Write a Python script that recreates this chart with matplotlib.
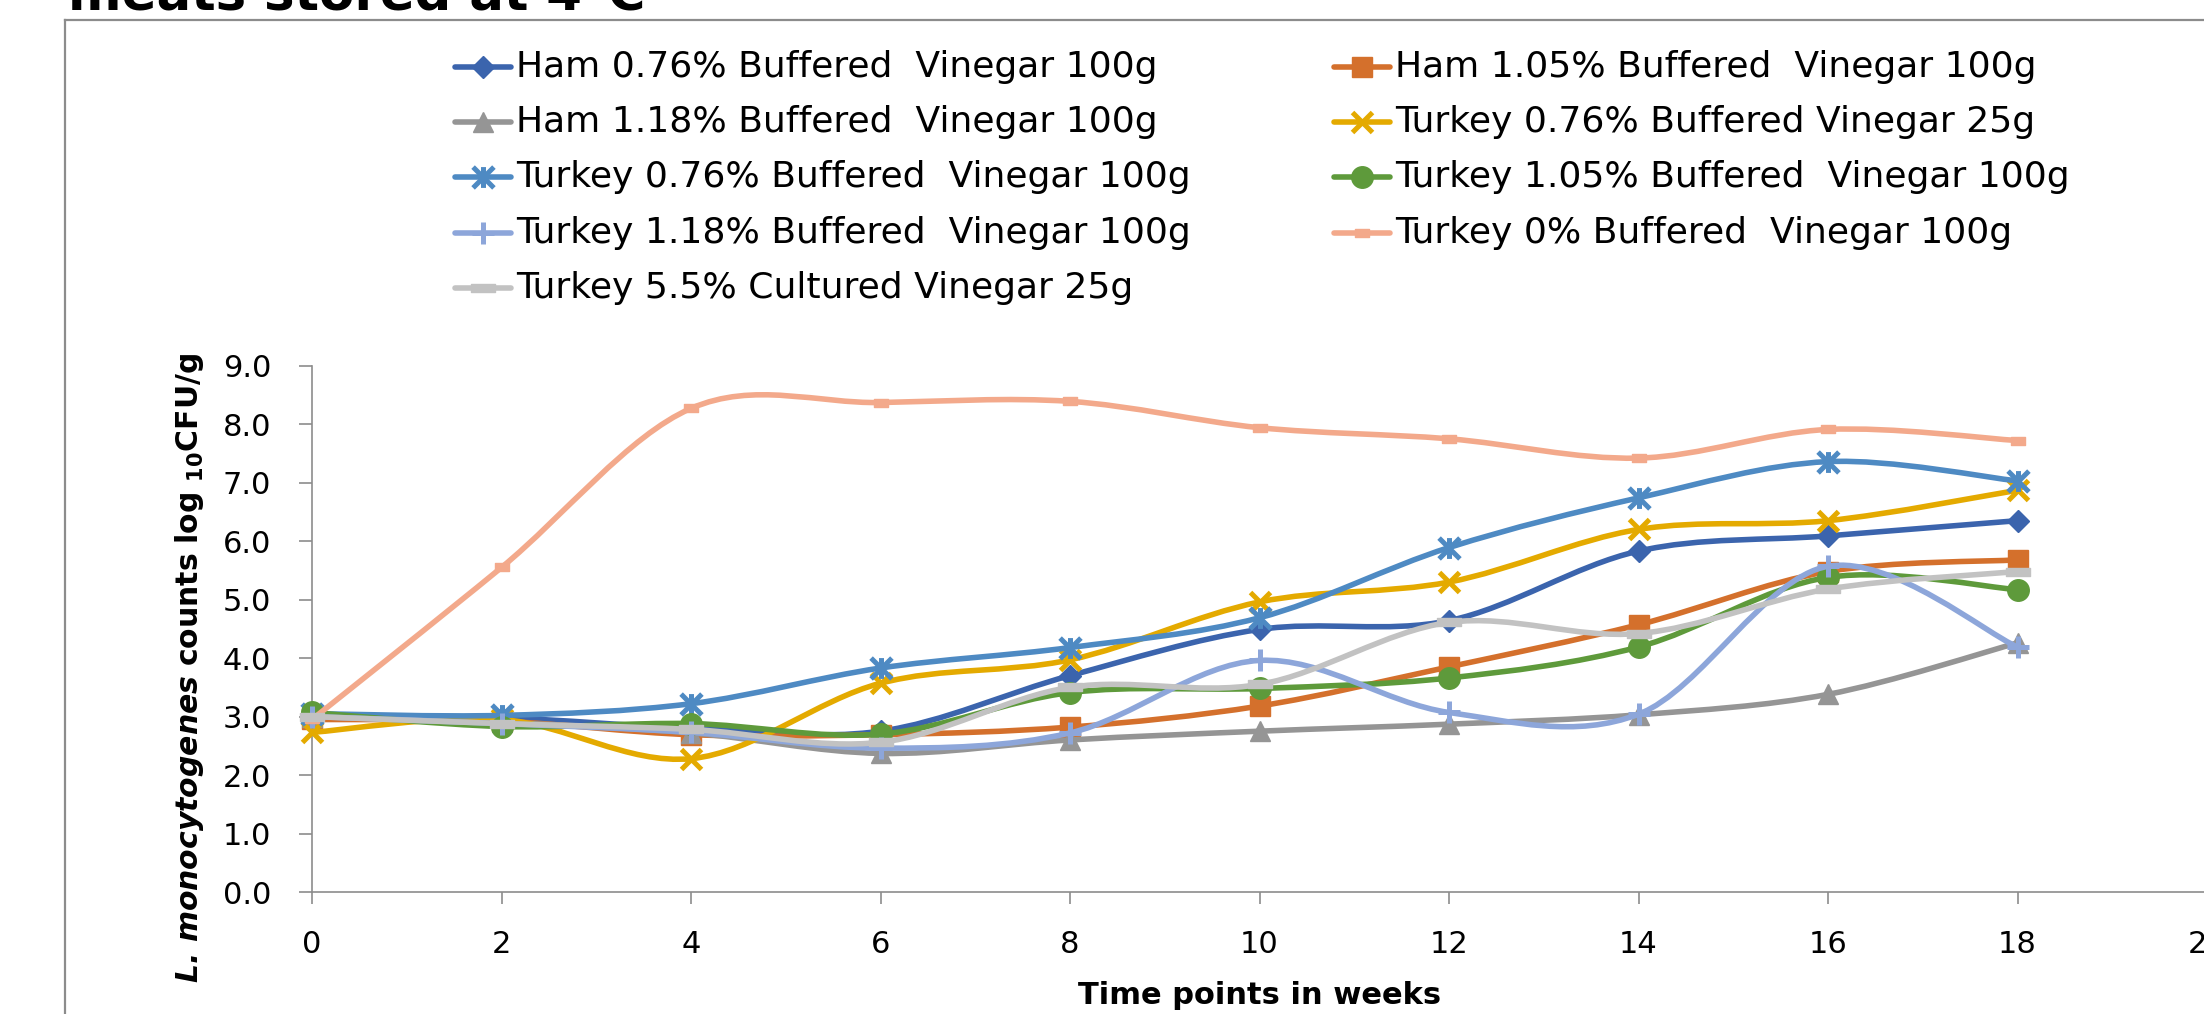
import numpy as np
import matplotlib
matplotlib.use("Agg")
import matplotlib.pyplot as plt
from matplotlib.path import Path
from matplotlib.patches import PathPatch
from matplotlib.lines import Line2D
from matplotlib.ticker import FormatStrFormatter

# ---------------- data ----------------
weeks = [0, 2, 4, 6, 8, 10, 12, 14, 16, 18]

ham_076_100 = [3.00, 2.98, 2.80, 2.75, 3.70, 4.49, 4.64, 5.83, 6.09, 6.35]
ham_105_100 = [2.95, 2.92, 2.69, 2.69, 2.82, 3.18, 3.85, 4.57, 5.48, 5.68]
ham_118_100 = [3.00, 2.90, 2.72, 2.37, 2.60, 2.75, 2.87, 3.03, 3.38, 4.26]
tur_076_25 = [2.73, 2.95, 2.28, 3.57, 3.97, 4.96, 5.30, 6.20, 6.35, 6.87]
tur_076_100 = [3.05, 3.02, 3.22, 3.83, 4.18, 4.69, 5.89, 6.74, 7.36, 7.03]
tur_105_100 = [3.07, 2.83, 2.88, 2.70, 3.41, 3.48, 3.66, 4.19, 5.38, 5.17]
tur_118_100 = [3.00, 2.88, 2.73, 2.46, 2.72, 3.96, 3.07, 3.04, 5.57, 4.19]
tur_000_100 = [2.95, 5.55, 8.27, 8.37, 8.39, 7.94, 7.75, 7.42, 7.91, 7.72]
tur_55_cult_25 = [3.00, 2.88, 2.78, 2.56, 3.50, 3.55, 4.61, 4.42, 5.18, 5.48]

labels = [
    "Ham 0.76% Buffered  Vinegar 100g",
    "Ham 1.05% Buffered  Vinegar 100g",
    "Ham 1.18% Buffered  Vinegar 100g",
    "Turkey 0.76% Buffered Vinegar 25g",
    "Turkey 0.76% Buffered  Vinegar 100g",
    "Turkey 1.05% Buffered  Vinegar 100g",
    "Turkey 1.18% Buffered  Vinegar 100g",
    "Turkey 0% Buffered  Vinegar 100g",
    "Turkey 5.5% Cultured Vinegar 25g",
]
series = [ham_076_100, ham_105_100, ham_118_100, tur_076_25, tur_076_100,
          tur_105_100, tur_118_100, tur_000_100, tur_55_cult_25]

y_ticks = [0, 1, 2, 3, 4, 5, 6, 7, 8, 9]
x_ticks = [0, 2, 4, 6, 8, 10, 12, 14, 16, 18, 20]

title_text = "meats stored at 4°C"
x_label = "Time points in weeks"
y_label = r"$\mathbfit{L.}\,\mathbfit{monocytogenes}\ \mathbf{counts\ log\ }_{\mathbf{10}}\mathbf{CFU/g}$"

# ---------------- styles ----------------
colors = ["#3B64AD", "#D4702C", "#959595", "#E4AA00", "#4E8AC3",
          "#5E9A3B", "#8DA6DA", "#F3A98B", "#C2C2C2"]

star_path = Path([(0, -1), (0, 1), (-1, -1), (1, 1), (-1, 1), (1, -1)],
                 [Path.MOVETO, Path.LINETO, Path.MOVETO, Path.LINETO, Path.MOVETO, Path.LINETO])
long_dash = Path([(-1, -0.3), (1, -0.3), (1, 0.3), (-1, 0.3), (-1, -0.3)],
                 [Path.MOVETO, Path.LINETO, Path.LINETO, Path.LINETO, Path.CLOSEPOLY])
short_dash = Path([(-1, -0.6), (1, -0.6), (1, 0.6), (-1, 0.6), (-1, -0.6)],
                  [Path.MOVETO, Path.LINETO, Path.LINETO, Path.LINETO, Path.CLOSEPOLY])

marker_styles = [
    dict(marker="D", ms=11.5, mew=1),
    dict(marker="s", ms=15, mew=1),
    dict(marker="^", ms=15, mew=1),
    dict(marker="x", ms=14, mew=3.6),
    dict(marker=star_path, ms=15, mew=3.6),
    dict(marker="o", ms=15.5, mew=1),
    dict(marker="+", ms=16, mew=3.6),
    dict(marker=short_dash, ms=10, mew=1),
    dict(marker=long_dash, ms=17, mew=1),
]
LW = 4.0
GREY = "#8C8C8C"

plt.rcParams["font.family"] = ["DejaVu Sans"]
plt.rcParams["mathtext.fontset"] = "dejavusans"

W, H = 2204, 1014
fig = plt.figure(figsize=(W / 100, H / 100), dpi=100)


def fx(px):
    return px / W


def fy(py):
    return 1 - py / H


ax_left, ax_right, ax_top, ax_bot = 312, 2207, 365.7, 892
ax = fig.add_axes([fx(ax_left), fy(ax_bot), fx(ax_right - ax_left), (ax_bot - ax_top) / H])


def smooth_path(xs, ys):
    pts = np.column_stack([xs, ys]).astype(float)
    n = len(pts)
    verts = [pts[0]]
    codes = [Path.MOVETO]
    for i in range(n - 1):
        p0 = pts[i - 1] if i > 0 else pts[i]
        p1 = pts[i]
        p2 = pts[i + 1]
        p3 = pts[i + 2] if i + 2 < n else pts[i + 1]
        c1 = p1 + (p2 - p0) / 6.0
        c2 = p2 - (p3 - p1) / 6.0
        verts += [c1, c2, p2]
        codes += [Path.CURVE4] * 3
    return Path(verts, codes)


for i, (vals, col, ms) in enumerate(zip(series, colors, marker_styles)):
    patch = PathPatch(smooth_path(weeks, vals), fill=False, edgecolor=col, lw=LW,
                      capstyle="round", joinstyle="round", zorder=2 + 2 * i)
    ax.add_patch(patch)
    ax.plot(weeks, vals, linestyle="none", marker=ms["marker"], ms=ms["ms"],
            mew=ms["mew"], mfc=col, mec=col, clip_on=False, zorder=3 + 2 * i)

ax.set_xlim(0, 20)
ax.set_ylim(0, 9)
ax.set_xticks(x_ticks)
ax.set_yticks(y_ticks)
ax.yaxis.set_major_formatter(FormatStrFormatter("%.1f"))
for s in ["top", "right"]:
    ax.spines[s].set_visible(False)
for s in ["left", "bottom"]:
    ax.spines[s].set_color(GREY)
    ax.spines[s].set_linewidth(1.2)
ax.tick_params(axis="y", direction="out", length=9.4, width=1.2, color=GREY,
               pad=20, labelsize=22, labelcolor="black")
ax.tick_params(axis="x", direction="out", length=8.6, width=1.2, color=GREY,
               pad=19, labelsize=22, labelcolor="black")

# axis titles
fig.text(fx((ax_left + ax_right) / 2), fy(995), x_label, ha="center", va="center",
         fontsize=22, fontweight="bold")
fig.text(fx(190), fy(668), y_label, ha="center", va="center", rotation=90, fontsize=21.5)

# partial title and chart frame
fig.text(fx(68), fy(9), title_text, ha="left", va="baseline", fontsize=37, fontweight="bold")
fig.add_artist(Line2D([fx(65), fx(65)], [fy(19.5), -0.1], color=GREY, lw=1.6,
                      transform=fig.transFigure))
fig.add_artist(Line2D([fx(65), 1.1], [fy(19.5), fy(19.5)], color=GREY, lw=1.6,
                      transform=fig.transFigure))

# legend (row-major, two columns)
row_y = [67, 122, 177, 233, 288]
col_handle = [(455, 511, 516), (1334, 1390, 1395)]
for i, (lab, col, ms) in enumerate(zip(labels, colors, marker_styles)):
    r, c = divmod(i, 2)
    x0, x1, xt = col_handle[c]
    y = fy(row_y[r])
    fig.add_artist(Line2D([fx(x0), fx(x1)], [y, y], color=col, lw=LW,
                          solid_capstyle="round", transform=fig.transFigure))
    fig.add_artist(Line2D([fx((x0 + x1) / 2)], [y], linestyle="none", marker=ms["marker"],
                          ms=ms["ms"], mew=ms["mew"], mfc=col, mec=col,
                          transform=fig.transFigure))
    fig.text(fx(xt), y, lab, ha="left", va="center", fontsize=26)

fig.savefig("out.png", dpi=100)
